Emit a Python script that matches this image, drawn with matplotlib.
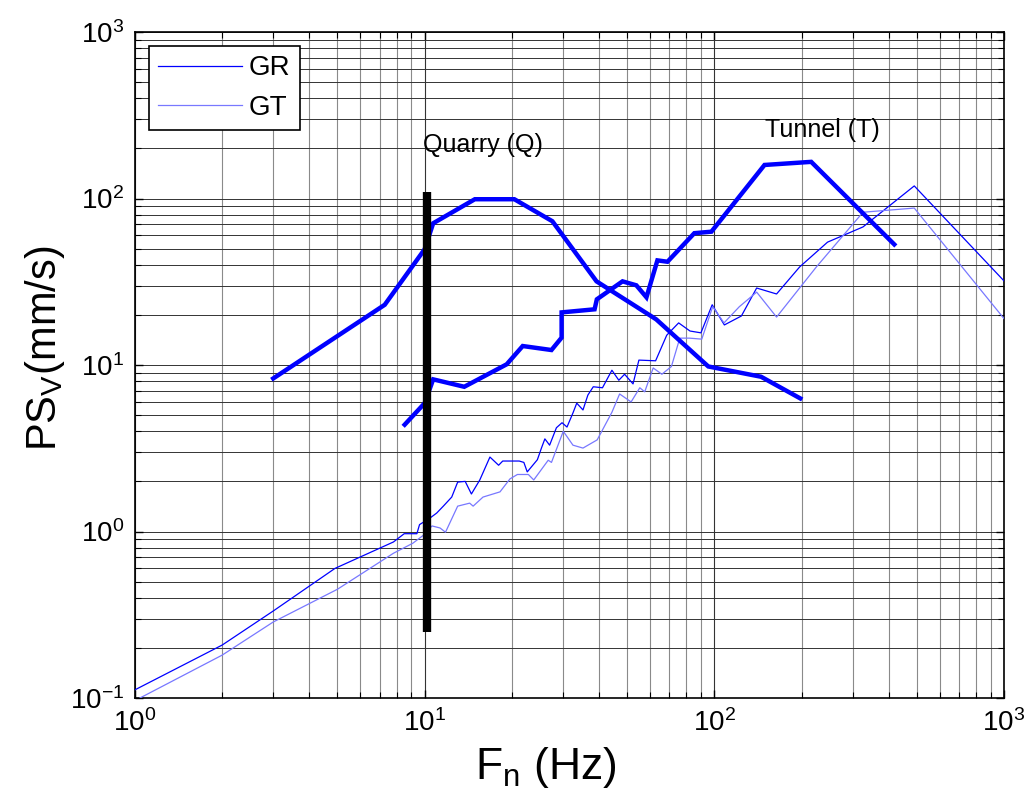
import matplotlib
matplotlib.use("Agg")
import matplotlib.pyplot as plt
from matplotlib.ticker import LogLocator, NullFormatter

plt.rcParams['font.family'] = ['Liberation Sans', 'DejaVu Sans']
plt.rcParams['mathtext.fontset'] = 'custom'
plt.rcParams['mathtext.rm'] = 'Liberation Sans'
plt.rcParams['mathtext.it'] = 'Liberation Sans:italic'
plt.rcParams['mathtext.default'] = 'regular'

# ---- data ----
gr_f = [1.0, 2.0, 3.0, 4.9, 7.8, 8.5, 9.4, 9.6, 10.4, 11.0, 11.6, 12.4, 13.0, 13.8, 14.5,
        15.5, 16.8, 18.0, 18.6, 21.2, 22.0, 22.6, 24.5, 25.3, 26.0, 27.0, 28.5, 29.8, 31.0,
        32.5, 33.5, 35.2, 36.6, 38.2, 41.1, 44.3, 46.8, 49.0, 52.4, 54.9, 62.7, 68.5, 75.3,
        82.4, 89.9, 98.3, 108.3, 124, 140, 164, 197, 246, 326, 490, 1000]
gr_v = [0.112, 0.208, 0.333, 0.6, 0.865, 0.97, 0.97, 1.1, 1.2, 1.29, 1.42, 1.61, 1.98, 2.0,
        1.68, 2.04, 2.8, 2.5, 2.65, 2.65, 2.6, 2.28, 2.7, 3.17, 3.6, 3.3, 4.2, 4.5, 4.24,
        5.15, 5.9, 5.37, 6.6, 7.4, 7.3, 9.3, 8.1, 8.8, 7.7, 10.7, 10.6, 15.1, 17.9, 16.0,
        15.6, 23.0, 17.4, 19.7, 29, 26.7, 38.8, 54.7, 67.5, 119, 32]

gt_f = [1.04, 2.0, 3.0, 5.0, 7.8, 9.1, 9.9, 10.6, 11.3, 11.8, 13.0, 14.3, 14.7, 15.9, 18.2,
        19.7, 20.9, 22.8, 23.8, 26.7, 27.4, 30.1, 32.5, 35.2, 39.4, 44.3, 47.1, 51.6, 55.3,
        57.5, 61.5, 65.9, 71.1, 76.0, 82, 90.5, 98.7, 108, 122, 140, 164, 225, 326, 490, 1000]
gt_v = [0.1, 0.181, 0.286, 0.45, 0.74, 0.85, 0.95, 1.08, 1.05, 0.99, 1.42, 1.48, 1.42, 1.61,
        1.73, 2.07, 2.2, 2.2, 2.04, 2.68, 2.6, 4.0, 3.3, 3.17, 3.55, 5.2, 6.7, 6.0, 7.3, 6.9,
        9.6, 8.8, 9.8, 14.5, 14.5, 14.3, 22.4, 17.9, 22.4, 27.4, 19.4, 38.8, 82.7, 87.6, 19]

quarry_f = [3.0, 7.28, 10.0, 10.7, 14.9, 20.4, 27.6, 39.2, 63, 95.3, 145, 198]
quarry_v = [8.3, 23, 49.6, 71, 99, 99, 73, 31.8, 18.8, 9.8, 8.5, 6.3]

tunnel_f = [8.53, 10.0, 10.7, 13.7, 19.2, 21.8, 27.4, 29.7, 29.7, 38.6, 39.3, 48.2, 53.8,
            58.3, 63.6, 68.9, 85.3, 97.7, 149, 216, 418]
tunnel_v = [4.38, 5.9, 8.2, 7.4, 10.1, 13.0, 12.3, 14.6, 20.7, 21.6, 24.8, 31.8, 30.1, 25.5,
            42.5, 41.7, 61.9, 63.2, 159, 166, 53]

bar_f = [10.2, 10.2]
bar_v = [0.25, 109]

labels = ['GR', 'GT']

# ---- figure ----
fig = plt.figure(figsize=(10.29, 7.98), dpi=100)
ax = fig.add_axes([135/1029, 1 - 698/798, (1004-135)/1029, (698-32)/798])
ax.set_xscale('log')
ax.set_yscale('log')
ax.set_xlim(1, 1000)
ax.set_ylim(0.1, 1000)

l1, = ax.plot(gr_f, gr_v, color=(0, 0, 1), lw=0.9, label=labels[0], zorder=3)
l2, = ax.plot(gt_f, gt_v, color=(0.47, 0.47, 1), lw=0.9, label=labels[1], zorder=3)
ax.plot(quarry_f, quarry_v, color=(0, 0, 1), lw=3.2, zorder=4, solid_joinstyle='miter')
ax.plot(tunnel_f, tunnel_v, color=(0, 0, 1), lw=3.2, zorder=4, solid_joinstyle='miter')
ax.plot(bar_f, bar_v, color='black', lw=6, solid_capstyle='butt', zorder=5)

ax.text(9.87, 190, 'Quarry (Q)', fontsize=18, ha='left', va='baseline')
ax.text(149.6, 234, 'Tunnel (T)', fontsize=18, ha='left', va='baseline')

# grid
ax.xaxis.grid(True, which='minor', color='#8a8a8a', lw=0.8)
ax.xaxis.grid(True, which='major', color='#333333', lw=0.8)
ax.yaxis.grid(True, which='both', color='#333333', lw=0.7)
ax.set_axisbelow(True)

ax.xaxis.set_major_locator(LogLocator(base=10, numticks=10))
ax.yaxis.set_major_locator(LogLocator(base=10, numticks=10))
ax.xaxis.set_minor_locator(LogLocator(base=10, subs=range(2, 10), numticks=20))
ax.yaxis.set_minor_locator(LogLocator(base=10, subs=range(2, 10), numticks=20))
ax.xaxis.set_minor_formatter(NullFormatter())
ax.yaxis.set_minor_formatter(NullFormatter())
ax.tick_params(which='both', direction='in', top=True, right=True, labelsize=20, color='black')
ax.tick_params(which='major', length=6, width=1)
ax.tick_params(which='minor', length=4, width=0.8)
ax.tick_params(axis='x', pad=8)
ax.tick_params(axis='y', pad=8)
for s in ax.spines.values():
    s.set_linewidth(1.2)

fig.text(546/1029, 1 - 767/798, r'F$_{n}$ (Hz)', fontsize=32, ha='center', va='center')
fig.text(45/1029, 1 - 348/798, r'PS$_{V}$(mm/s)', fontsize=30, ha='center', va='center',
         rotation=90)

leg = ax.legend(handles=[l1, l2], loc='upper left', bbox_to_anchor=(0.016, 0.979),
                fontsize=20, frameon=True, fancybox=False, edgecolor='black',
                handlelength=3.0, labelspacing=0.49, borderpad=0.34, handletextpad=0.25,
                borderaxespad=0)
leg.get_frame().set_linewidth(1.2)
leg.get_frame().set_alpha(1)

fig.savefig('out.png', dpi=100)
